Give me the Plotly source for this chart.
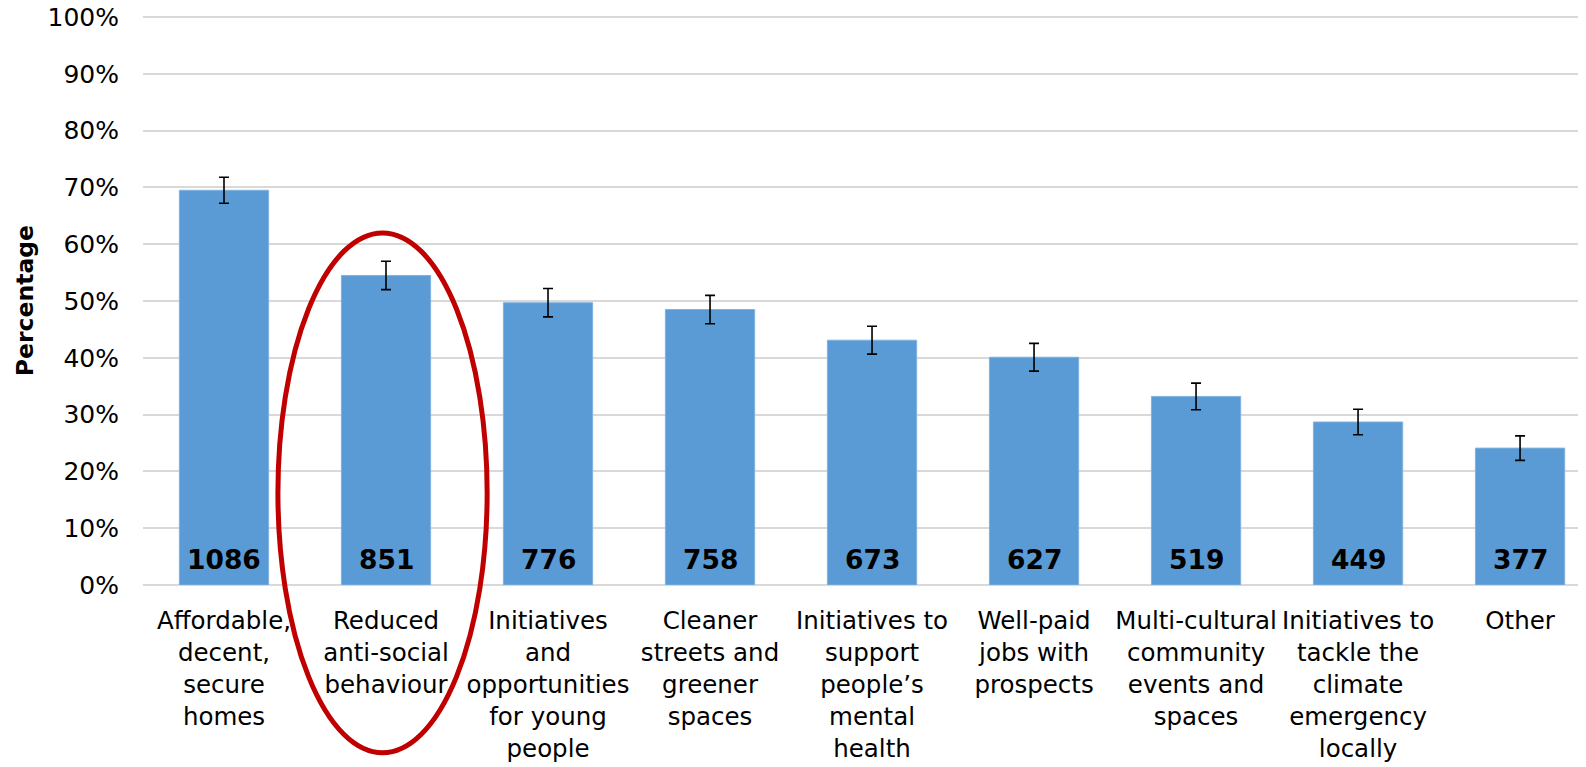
import plotly.graph_objects as go

categories = [
    "Affordable,<br>decent,<br>secure<br>homes",
    "Reduced<br>anti-social<br>behaviour",
    "Initiatives<br>and<br>opportunities<br>for young<br>people",
    "Cleaner<br>streets and<br>greener<br>spaces",
    "Initiatives to<br>support<br>people’s<br>mental<br>health",
    "Well-paid<br>jobs with<br>prospects",
    "Multi-cultural<br>community<br>events and<br>spaces",
    "Initiatives to<br>tackle the<br>climate<br>emergency<br>locally",
    "Other",
]
percentages = [69.5, 54.5, 49.7, 48.5, 43.1, 40.1, 33.2, 28.7, 24.1]
errors = [2.3, 2.5, 2.5, 2.5, 2.45, 2.45, 2.35, 2.25, 2.15]
counts = [1086, 851, 776, 758, 673, 627, 519, 449, 377]

BAR_BLUE = "#5B9BD5"
GRID_GRAY = "#D9D9D9"
RED = "#C00000"
FONT = "DejaVu Sans"

x_idx = list(range(len(categories)))

fig = go.Figure(go.Bar(
    x=x_idx,
    y=percentages,
    marker=dict(color=BAR_BLUE, line=dict(color="#7FB2E0", width=1)),
    error_y=dict(type="data", array=errors, visible=True,
                 color="black", thickness=1.6, width=5),
    hoverinfo="y",
))

# counts written near the base of each bar
for i, n in zip(x_idx, counts):
    fig.add_annotation(
        x=i, y=4.45, text=f"<b>{n}</b>", showarrow=False,
        xanchor="center", yanchor="middle",
        font=dict(family=FONT, size=26.5, color="black"),
    )

# y-axis title
fig.add_annotation(
    xref="paper", yref="paper", x=-0.082, y=0.5,
    text="<b>Percentage</b>", textangle=-90, showarrow=False,
    xanchor="center", yanchor="middle",
    font=dict(family=FONT, size=23.5, color="black"),
)

# red ellipse highlighting the second category
fig.add_shape(
    type="circle", xref="paper", yref="paper",
    x0=0.0935, x1=0.2385, y0=-0.2949, y1=0.6188,
    line=dict(color=RED, width=5),
)

# page body has an 8px margin, so the figure is shrunk by that much
fig.update_layout(
    width=1578, height=759,
    paper_bgcolor="white", plot_bgcolor="white",
    margin=dict(l=135, r=0, t=8, b=182),
    bargap=0.449,
    showlegend=False,
    font=dict(family=FONT, color="black"),
    xaxis=dict(
        range=[-0.5, 8.407], automargin=False,
        tickmode="array", tickvals=x_idx, ticktext=categories,
        tickfont=dict(family=FONT, size=24.5, color="black"),
        ticks="outside", ticklen=14, tickcolor="rgba(0,0,0,0)",
        showgrid=False, zeroline=False, showline=False,
        tickangle=0,
    ),
    yaxis=dict(
        range=[0, 100.18], tick0=0, dtick=10, ticksuffix="%",
        automargin=False,
        tickfont=dict(family=FONT, size=25, color="black"),
        ticks="outside", ticklen=18, tickcolor="rgba(0,0,0,0)",
        ticklabeloverflow="allow",
        showgrid=True, gridcolor=GRID_GRAY, gridwidth=2,
        zeroline=True, zerolinecolor=GRID_GRAY, zerolinewidth=2,
        showline=False,
    ),
)

fig.write_html("out.html")
